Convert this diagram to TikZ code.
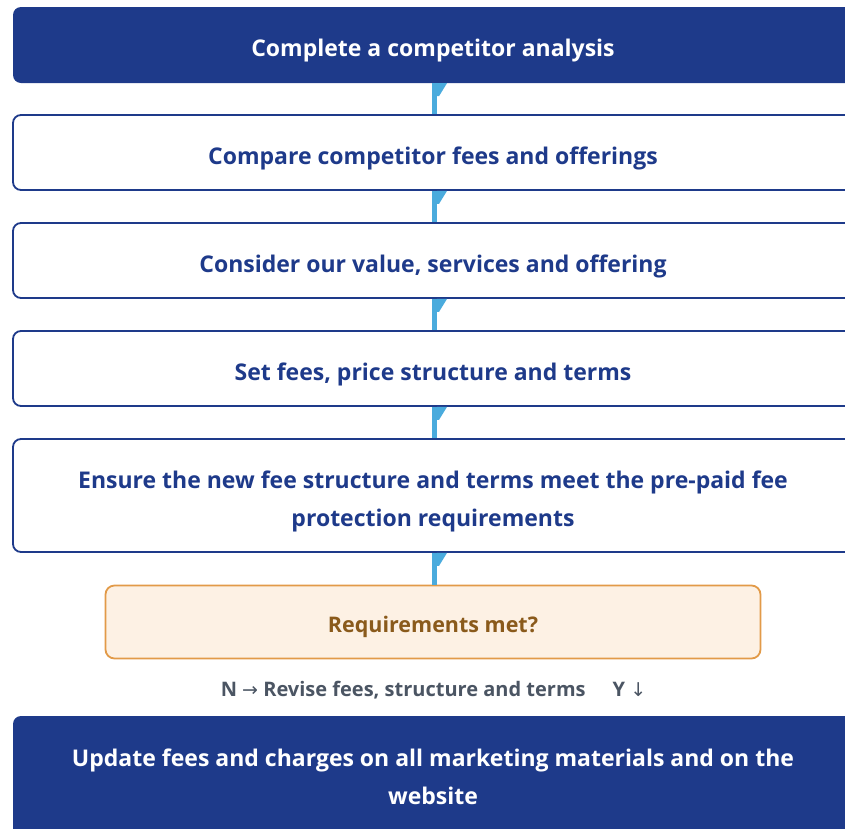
\documentclass[tikz,border=0pt]{standalone}
\usepackage{fontspec}
\setmainfont{Open Sans}
\newfontfamily\symfont{DejaVu Sans}
\definecolor{navy}{HTML}{1E3A8A}
\definecolor{flowline}{HTML}{4AABDD}
\definecolor{decfill}{HTML}{FDF1E4}
\definecolor{decedge}{HTML}{E29A48}
\definecolor{dectext}{HTML}{8A5A1B}
\definecolor{notegray}{HTML}{4B5563}
\tikzset{
  boxtext/.style={font=\bfseries\fontsize{23}{38}\selectfont, align=center, inner sep=0pt},
  solidbox/.style={rectangle, rounded corners=8pt, fill=navy, minimum width=840pt, inner sep=0pt},
  stepbox/.style={rectangle, rounded corners=8pt, draw=navy, line width=1.8pt, fill=white,
    minimum width=840pt, inner sep=0pt},
  decbox/.style={rectangle, rounded corners=9pt, draw=decedge, line width=1.8pt, fill=decfill,
    minimum width=655pt, minimum height=73pt, inner sep=0pt},
  notelabel/.style={text=notegray, font=\bfseries\fontsize{20}{24}\selectfont, inner sep=0pt},
  conn/.style={draw=flowline, line width=5pt},
  tick/.style={fill=flowline},
}
\newcommand{\arr}[1]{{\symfont\mdseries\fontsize{19}{24}\selectfont #1}}
\begin{document}
\begin{tikzpicture}[x=1pt,y=-1pt]
\useasboundingbox (0,0) rectangle (845,828);
\clip (0,0) rectangle (845,828);

% process steps
\node[solidbox, minimum height=76pt,
  label={[boxtext, text=white, yshift=-6pt]center:Complete a competitor analysis}] (s1) at (433,45) {};
\node[stepbox, minimum height=75pt,
  label={[boxtext, text=navy, yshift=-6pt]center:Compare competitor fees and offerings}] (s2) at (433,152.5) {};
\node[stepbox, minimum height=75pt,
  label={[boxtext, text=navy, yshift=-6pt]center:Consider our value, services and offering}] (s3) at (433,260.5) {};
\node[stepbox, minimum height=75pt,
  label={[boxtext, text=navy, yshift=-6pt]center:Set fees, price structure and terms}] (s4) at (433,368.5) {};
\node[stepbox, minimum height=113pt,
  label={[boxtext, text=navy, yshift=-6pt]center:Ensure the new fee structure and terms meet the pre-paid fee\\protection requirements}] (s5) at (433,495.5) {};
\node[decbox,
  label={[boxtext, text=dectext, font=\bfseries\fontsize{21.5}{26}\selectfont, yshift=-5pt]center:Requirements met?}] (d) at (433,622) {};
\node[notelabel] (n) at (433.5,690)
  {N \arr{→} Revise fees, structure and terms\hspace{27pt}Y \arr{↓}};
\node[solidbox, minimum height=122pt,
  label={[boxtext, text=white]center:Update fees and charges on all marketing materials and on the\\website}] (s6) at (433,777) {};

% connectors between consecutive steps
\foreach \a/\b in {s1/s2, s2/s3, s3/s4, s4/s5, s5/d}{
  \draw[conn] ([xshift=1.5pt]\a.south) -- ([xshift=1.5pt]\b.north);
  \fill[tick] ([xshift=4pt]\a.south) -- ++(10,0) -- ++(-8,13) -- ++(-2,0) -- cycle;
}
\end{tikzpicture}
\end{document}
